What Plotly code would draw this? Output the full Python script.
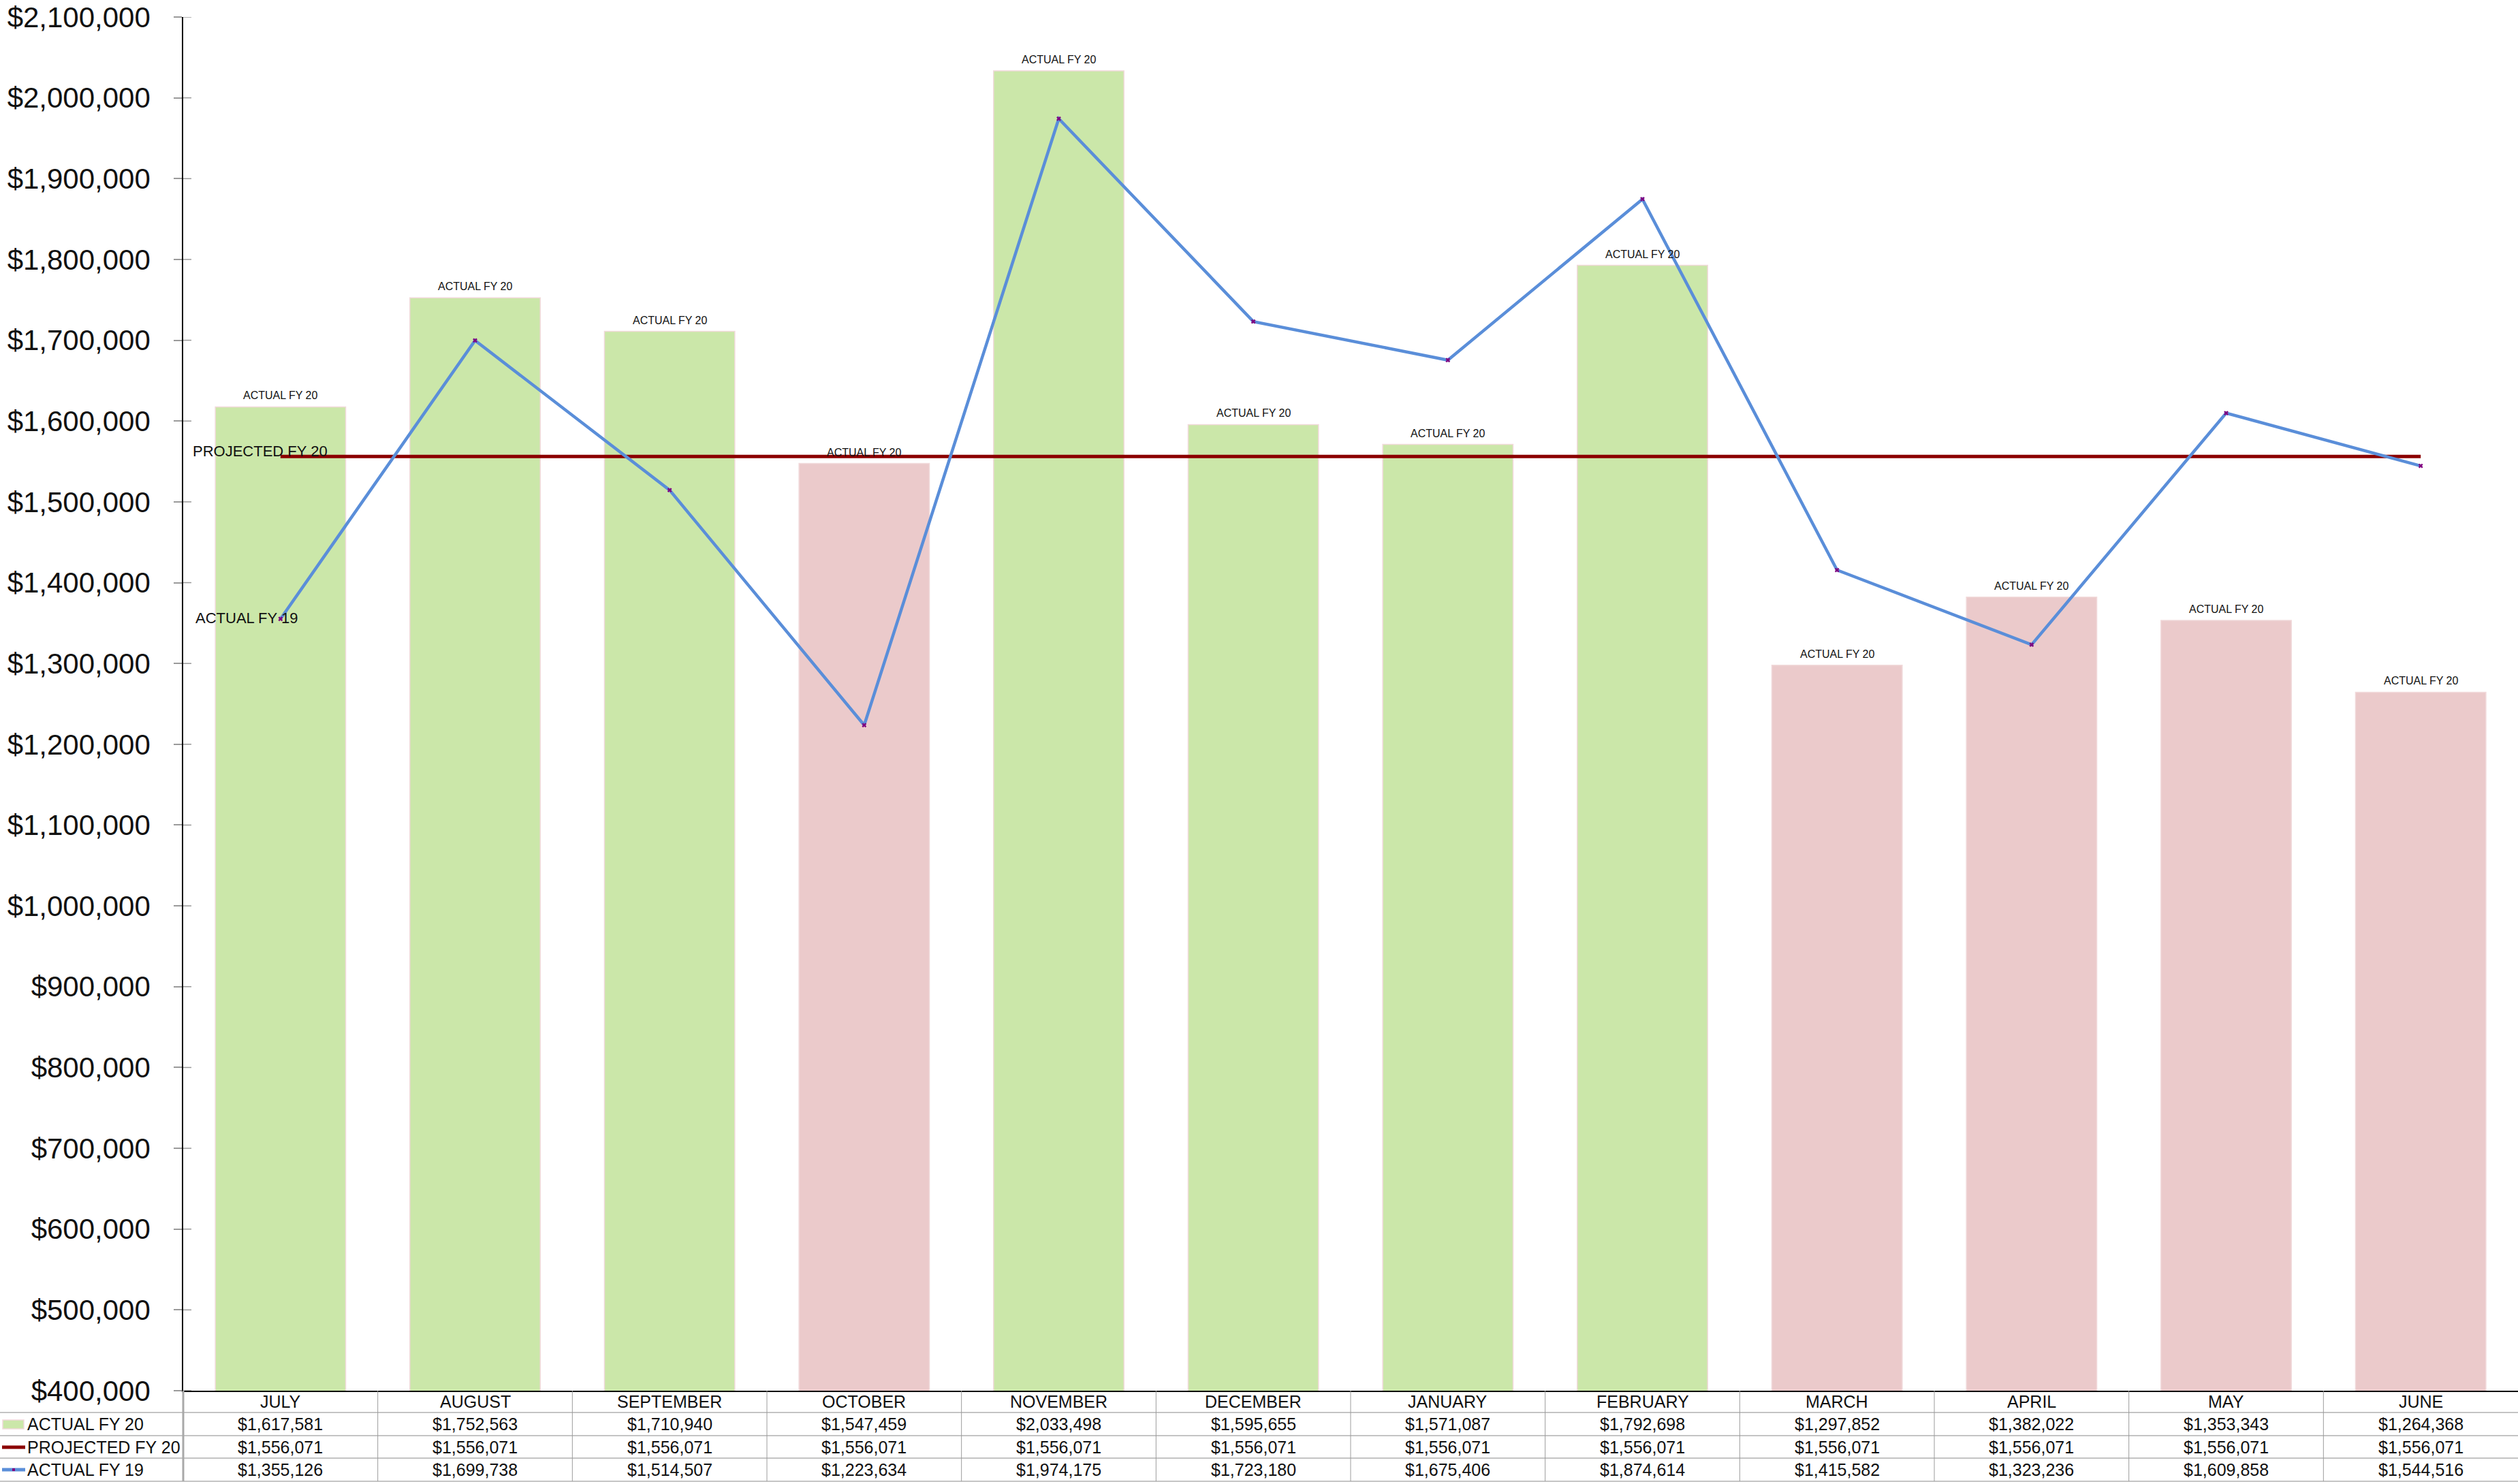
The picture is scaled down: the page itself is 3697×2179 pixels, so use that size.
import plotly.graph_objects as go

# ---------------- data ----------------
months = ["JULY", "AUGUST", "SEPTEMBER", "OCTOBER", "NOVEMBER", "DECEMBER",
          "JANUARY", "FEBRUARY", "MARCH", "APRIL", "MAY", "JUNE"]
actual_fy20 = [1617581, 1752563, 1710940, 1547459, 2033498, 1595655,
               1571087, 1792698, 1297852, 1382022, 1353343, 1264368]
projected_fy20 = [1556071, 1556071, 1556071, 1556071, 1556071, 1556071,
                  1556071, 1556071, 1556071, 1556071, 1556071, 1556071]
actual_fy19 = [1355126, 1699738, 1514507, 1223634, 1974175, 1723180,
               1675406, 1874614, 1415582, 1323236, 1609858, 1544516]
series_names = ["ACTUAL FY 20", "PROJECTED FY 20", "ACTUAL FY 19"]
y_ticks = [400000, 500000, 600000, 700000, 800000, 900000, 1000000, 1100000,
           1200000, 1300000, 1400000, 1500000, 1600000, 1700000, 1800000,
           1900000, 2000000, 2100000]
y_tick_labels = ["${:,}".format(t) for t in y_ticks]

# ---------------- styling ----------------
W, H = 3697, 2179
ML, MR, MT, MB = 269, 0, 25, 137
PW = W - ML - MR
PH = H - MT - MB
FONT = "Liberation Sans, Arial, sans-serif"
GREEN = "#CBE7A9"
PINK = "#EBCACB"
BAR_EDGE = "#F1D9DA"
RED = "#8B0000"
BLUE = "#5A8ED9"
PURPLE = "#80007F"


def pxx(p):
    return (p - ML) / PW


def pxy(p):
    return (H - MB - p) / PH


bar_colors = [GREEN if a >= p else PINK for a, p in zip(actual_fy20, projected_fy20)]

fig = go.Figure()
fig.add_trace(go.Bar(
    x=months, y=actual_fy20, name=series_names[0], width=0.67,
    marker=dict(color=bar_colors, line=dict(color=BAR_EDGE, width=1.5)),
    showlegend=False,
))
fig.add_trace(go.Scatter(
    x=months, y=projected_fy20, name=series_names[1], mode="lines",
    line=dict(color=RED, width=5), showlegend=False,
))
fig.add_trace(go.Scatter(
    x=months, y=actual_fy19, name=series_names[2], mode="lines+markers",
    line=dict(color=BLUE, width=4.5),
    marker=dict(symbol="x", size=6, color=PURPLE, line=dict(width=0)),
    showlegend=False,
))

annotations = []
shapes = []

# bar labels
for m, v in zip(months, actual_fy20):
    annotations.append(dict(x=m, y=v, xref="x", yref="y", text=series_names[0],
                            showarrow=False, yanchor="bottom", yshift=6,
                            font=dict(family=FONT, size=16, color="#111111")))

# line labels
annotations.append(dict(x=months[0], y=projected_fy20[0], xref="x", yref="y",
                        text=series_names[1], showarrow=False, xshift=-30, yshift=8,
                        font=dict(family=FONT, size=22, color="#111111")))
annotations.append(dict(x=months[0], y=actual_fy19[0], xref="x", yref="y",
                        text=series_names[2], showarrow=False, xshift=-50, yshift=1,
                        font=dict(family=FONT, size=22, color="#111111")))

# inner half of crossing tick marks
for t in y_ticks:
    shapes.append(dict(type="line", xref="paper", yref="y", x0=0, x1=12 / PW,
                       y0=t, y1=t, line=dict(color="#9A9A9A", width=1.5)))

# ---------------- data table ----------------
edges = [2042, 2074, 2108, 2141, 2175]
centers = [(edges[i] + edges[i + 1]) / 2 for i in range(4)]

for e in edges[1:]:
    shapes.append(dict(type="line", xref="paper", yref="paper", x0=pxx(0), x1=1,
                       y0=pxy(e), y1=pxy(e), line=dict(color="#C4C4C4", width=2)))
shapes.append(dict(type="line", xref="paper", yref="paper", x0=0, x1=0,
                   y0=pxy(edges[0]), y1=pxy(edges[-1]), line=dict(color="#A8A8A8", width=3)))
for k in range(1, len(months)):
    xk = k / len(months)
    shapes.append(dict(type="line", xref="paper", yref="paper", x0=xk, x1=xk,
                       y0=pxy(edges[0]), y1=pxy(edges[-1]), line=dict(color="#9C9C9C", width=1)))

rows = [actual_fy20, projected_fy20, actual_fy19]
for i, m in enumerate(months):
    annotations.append(dict(x=m, y=pxy(centers[0]), xref="x", yref="paper", text=m,
                            showarrow=False, yanchor="middle",
                            font=dict(family=FONT, size=25, color="#111111")))
    for r, vals in enumerate(rows):
        annotations.append(dict(x=m, y=pxy(centers[r + 1]), xref="x", yref="paper",
                                text="${:,}".format(vals[i]), showarrow=False,
                                yanchor="middle",
                                font=dict(family=FONT, size=25, color="#111111")))

# legend column
for r, name in enumerate(series_names):
    annotations.append(dict(x=pxx(38), y=pxy(centers[r + 1]), xref="paper", yref="paper",
                            text=name, showarrow=False, xanchor="left", yanchor="middle",
                            font=dict(family=FONT, size=25, color="#111111")))
shapes.append(dict(type="rect", xref="paper", yref="paper", x0=pxx(4), x1=pxx(35),
                   y0=pxy(2098), y1=pxy(2085), fillcolor=GREEN,
                   line=dict(color=BAR_EDGE, width=1.5)))
shapes.append(dict(type="line", xref="paper", yref="paper", x0=pxx(3), x1=pxx(37),
                   y0=pxy(2125), y1=pxy(2125), line=dict(color=RED, width=5)))
shapes.append(dict(type="line", xref="paper", yref="paper", x0=pxx(3), x1=pxx(37),
                   y0=pxy(2158), y1=pxy(2158), line=dict(color=BLUE, width=5)))
shapes.append(dict(type="rect", xref="paper", yref="paper", x0=pxx(18), x1=pxx(22),
                   y0=pxy(2160), y1=pxy(2156), fillcolor=PURPLE, line=dict(width=0)))

fig.update_layout(
    width=W, height=H,
    margin=dict(l=ML, r=MR, t=MT, b=MB, pad=0),
    paper_bgcolor="white", plot_bgcolor="white",
    font=dict(family=FONT, color="#111111"),
    showlegend=False,
    bargap=0.33,
    annotations=annotations,
    shapes=shapes,
    xaxis=dict(type="category", range=[-0.5, len(months) - 0.5],
               showticklabels=False, ticks="", showgrid=False, zeroline=False,
               showline=True, linecolor="black", linewidth=2),
    yaxis=dict(range=[y_ticks[0], y_ticks[-1]], tickmode="array",
               tickvals=y_ticks, ticktext=y_tick_labels,
               ticks="outside", ticklen=12,
               tickcolor="#9A9A9A", tickwidth=1.5, ticklabelstandoff=26,
               showgrid=False, zeroline=False, showline=True,
               linecolor="black", linewidth=1.5,
               tickfont=dict(family=FONT, size=42, color="#111111")),
)

fig.write_html("out.html", config={"displayModeBar": False},
               post_script="document.body.style.margin='0';")
